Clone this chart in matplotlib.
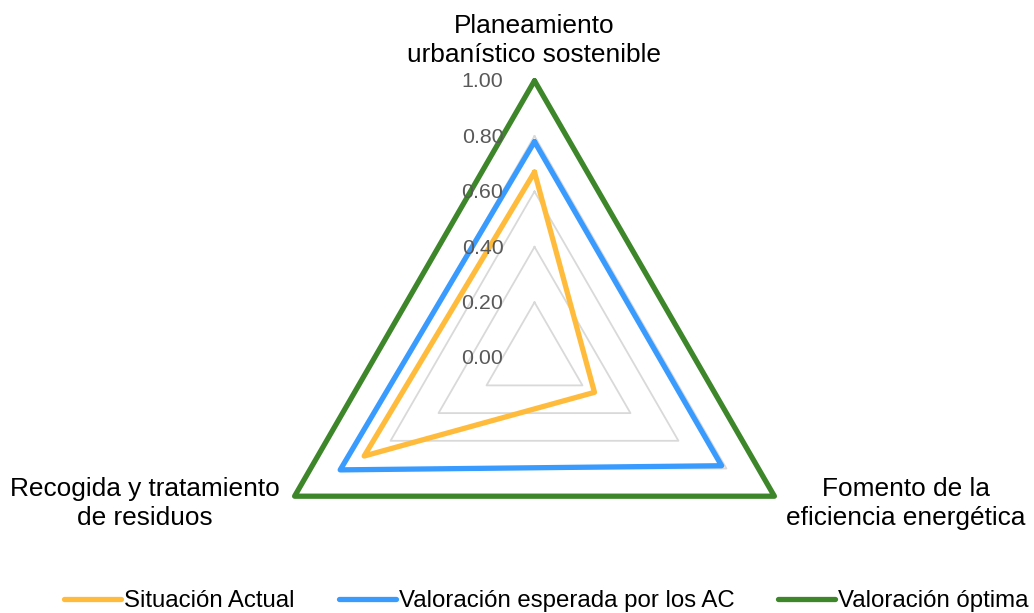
import numpy as np
import matplotlib.pyplot as plt

plt.rcParams['font.family'] = ['Liberation Sans', 'DejaVu Sans']

categorias = ["Planeamiento\nurbanístico sostenible",
              "Fomento de la\neficiencia energética",
              "Recogida y tratamiento\nde residuos"]
situacion_actual = [0.67, 0.25, 0.71]
valoracion_esperada = [0.78, 0.78, 0.81]
valoracion_optima = [1.00, 1.00, 1.00]
niveles = [0.0, 0.2, 0.4, 0.6, 0.8, 1.0]

series = [
    ("Situación Actual", situacion_actual, "#FFBC3C"),
    ("Valoración esperada por los AC", valoracion_esperada, "#3A9BFE"),
    ("Valoración óptima", valoracion_optima, "#3D8629"),
]

# angles clockwise from the top, like Excel's radar chart
ang = np.deg2rad(np.arange(len(categorias)) * 360 / len(categorias))


def xy(r):
    r = np.asarray(r, dtype=float)
    x = r * np.sin(ang)
    y = r * np.cos(ang)
    return np.append(x, x[0]), np.append(y, y[0])


W, H = 1034, 613
cx, cy, R = 534.5, 357.7, 277.0
fig = plt.figure(figsize=(W / 100, H / 100), dpi=100)
ax = fig.add_axes([0, 0, 1, 1])
ax.set_xlim(-cx / R, (W - cx) / R)
ax.set_ylim(-(H - cy) / R, cy / R)
ax.axis("off")


def py2d(p):
    # pixel row from the top -> data y
    return (cy - p) / R


def px2d(p):
    return (p - cx) / R


# polygon grid
for lv in niveles[1:]:
    gx, gy = xy([lv] * len(categorias))
    ax.plot(gx, gy, color="#D9D9D9", lw=1.3, zorder=1)

for nombre, vals, col in series:
    sx, sy = xy(vals)
    ax.plot(sx, sy, color=col, lw=3.8, solid_joinstyle="round",
            solid_capstyle="round", label=nombre, zorder=2)

for lv in niveles:
    ax.text(px2d(503.5), lv - 0.024, f"{lv:.2f}", ha="right", va="baseline",
            fontsize=15.4, color="#595959", zorder=5)

# va="baseline" lines up the last line of each label
kw = dict(ha="center", va="baseline", fontsize=18.9, linespacing=1.25)
ax.text(px2d(534), py2d(61.5), categorias[0], **kw)
ax.text(px2d(906), py2d(525), categorias[1], **kw)
ax.text(px2d(145), py2d(525), categorias[2], **kw)

leg = fig.legend(loc="center", bbox_to_anchor=(546.5 / W, 1 - 601 / H), ncol=3,
                 frameon=False, fontsize=17.3, handlelength=2.37,
                 handletextpad=0.125, columnspacing=1.83)
for h in leg.get_lines():
    h.set_solid_capstyle("round")

fig.savefig("out.png", dpi=100)
